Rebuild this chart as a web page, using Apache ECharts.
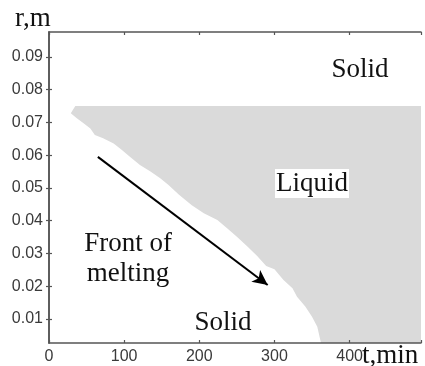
<!DOCTYPE html>
<html><head><meta charset="utf-8">
<script src="https://cdn.jsdelivr.net/npm/echarts@6/dist/echarts.min.js"></script>
<style>html,body{margin:0;padding:0;background:#fff}#c{width:425px;height:366px}</style>
</head><body><div id="c"></div>
<script>
// melting front boundary (time, min ; radius, m)
const frontT = [29, 37, 46, 55, 61, 72, 86, 97, 108, 121, 135, 148, 159, 173, 190, 206, 224, 237, 250, 264, 277, 289, 300, 312, 324, 330, 341, 350, 357, 361, 362];
const frontR = [0.0728, 0.0713, 0.0698, 0.0682, 0.0662, 0.0652, 0.0636, 0.0616, 0.0595, 0.0570, 0.0550, 0.0530, 0.0509, 0.0479, 0.0447, 0.0423, 0.0402, 0.0377, 0.0351, 0.0321, 0.0292, 0.0262, 0.0252, 0.0219, 0.0194, 0.0168, 0.0138, 0.0107, 0.0076, 0.0036, 0.0027];
const liquidTopR = 0.075;
const liquidTopStartT = 35;
const arrowStart = [65, 0.0595];
const arrowEnd = [291, 0.0204];
const xTicks = [0, 100, 200, 300, 400];
const yTicks = [0.01, 0.02, 0.03, 0.04, 0.05, 0.06, 0.07, 0.08, 0.09];
const xMin = 0, xMax = 495;
const yMin = 0.00267, yMax = 0.09763;

const chart = echarts.init(document.getElementById('c'));
const axisLine = {show: true, lineStyle: {color: '#555', width: 1.5}};
const tick = {show: true, inside: true, length: 3, lineStyle: {color: '#555', width: 1.2}};
const labelFont = {color: '#3a3a3a', fontFamily: 'Liberation Sans', fontSize: 16};
const serif = 'Liberation Serif';

chart.setOption({
  animation: false,
  grid: {left: 49, right: 4, top: 32, bottom: 23},
  xAxis: [
    {type: 'value', min: xMin, max: xMax, interval: 100, position: 'bottom', z: 5,
     axisLine, axisTick: tick, splitLine: {show: false},
     axisLabel: Object.assign({margin: 6, customValues: xTicks}, labelFont)},
    {type: 'value', min: xMin, max: xMax, interval: 100, position: 'top', z: 5,
     axisLine, axisTick: tick, splitLine: {show: false}, axisLabel: {show: false}}
  ],
  yAxis: [
    {type: 'value', min: yMin, max: yMax, position: 'left', z: 5,
     axisLine, axisTick: Object.assign({customValues: yTicks}, tick), splitLine: {show: false},
     axisLabel: Object.assign({margin: 6, customValues: yTicks, formatter: v => v.toFixed(2)}, labelFont)},
    {type: 'value', min: yMin, max: yMax, position: 'right', z: 5,
     axisLine, axisTick: Object.assign({customValues: yTicks}, tick), splitLine: {show: false},
     axisLabel: {show: false}}
  ],
  series: [{
    type: 'custom', z: 1, silent: true, clip: true,
    data: [0],
    renderItem: function (params, api) {
      const pts = [];
      for (let i = 0; i < frontT.length; i++) pts.push(api.coord([frontT[i], frontR[i]]));
      pts.push(api.coord([xMax, yMin]));
      pts.push(api.coord([xMax, liquidTopR]));
      pts.push(api.coord([liquidTopStartT, liquidTopR]));
      return {type: 'polygon', shape: {points: pts}, style: {fill: '#dadada'}};
    },
    markLine: {
      silent: true, symbol: ['none', 'arrow'], symbolSize: [11, 15],
      label: {show: false},
      lineStyle: {color: '#000', width: 2, type: 'solid'},
      data: [[{coord: arrowStart}, {coord: arrowEnd}]]
    }
  }],
  graphic: [
    {type: 'text', x: 15, y: 19, style: {text: 'r,m', font: '27px ' + serif, fill: '#111', textVerticalAlign: 'middle'}},
    {type: 'text', x: 362, y: 356, style: {text: 't,min', font: '27px ' + serif, fill: '#111', textVerticalAlign: 'middle'}},
    {type: 'text', x: 360, y: 70, style: {text: 'Solid', font: '27px ' + serif, fill: '#111', textAlign: 'center', textVerticalAlign: 'middle'}},
    {type: 'rect', shape: {x: 275, y: 169, width: 74, height: 29}, style: {fill: '#fff'}, z: 10},
    {type: 'text', x: 312, y: 184, z: 11, style: {text: 'Liquid', font: '27px ' + serif, fill: '#111', textAlign: 'center', textVerticalAlign: 'middle'}},
    {type: 'text', x: 128, y: 244, style: {text: 'Front of', font: '27px ' + serif, fill: '#111', textAlign: 'center', textVerticalAlign: 'middle'}},
    {type: 'text', x: 128, y: 274, style: {text: 'melting', font: '27px ' + serif, fill: '#111', textAlign: 'center', textVerticalAlign: 'middle'}},
    {type: 'text', x: 223, y: 323, style: {text: 'Solid', font: '27px ' + serif, fill: '#111', textAlign: 'center', textVerticalAlign: 'middle'}}
  ]
});
</script></body></html>
